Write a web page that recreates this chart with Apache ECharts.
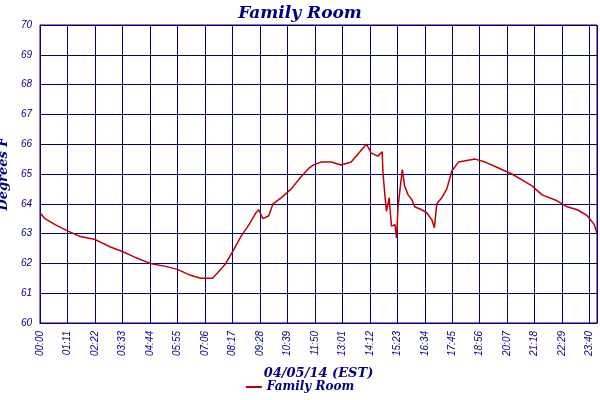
<!DOCTYPE html>
<html><head><meta charset="utf-8">
<script src="https://cdn.jsdelivr.net/npm/echarts@6/dist/echarts.min.js"></script>
<style>html,body{margin:0;background:#fff}#c{width:600px;height:400px}</style></head>
<body><div id="c"></div>
<script>
const minutes = [0,13,39,70,104,143,182,213,246,285,324,355,389,415,446,467,480,498,519,540,558,565,576,591,602,623,649,674,695,706,726,752,778,804,843,856,873,884,886,891,895,902,908,917,921,925,932,936,942,951,960,968,986,999,1012,1019,1025,1038,1051,1064,1081,1124,1150,1176,1193,1219,1245,1271,1297,1336,1362,1388,1414,1432,1439];
const temps = [63.7,63.5,63.3,63.1,62.9,62.8,62.55,62.4,62.2,62.0,61.9,61.8,61.6,61.5,61.5,61.8,62.0,62.4,62.9,63.3,63.7,63.8,63.5,63.6,64.0,64.2,64.5,64.9,65.2,65.3,65.4,65.4,65.3,65.4,66.0,65.7,65.6,65.75,65.05,64.3,63.75,64.2,63.25,63.3,62.85,63.9,64.7,65.15,64.6,64.3,64.15,63.9,63.8,63.7,63.47,63.2,64.0,64.2,64.5,65.1,65.4,65.5,65.4,65.25,65.15,65.0,64.8,64.6,64.3,64.1,63.9,63.8,63.6,63.3,63.0];
const seriesName = 'Family Room';
const xTitle = '04/05/14 (EST)';
const yTitle = 'Degrees F';
const data = minutes.map((m,i)=>[m,temps[i]]);
const navy = '#000080';
const fmt = m => String(Math.floor(m/60)).padStart(2,'0')+':'+String(m%60).padStart(2,'0');
const ch = echarts.init(document.getElementById('c'));
ch.setOption({
  animation:false,
  title:{text:'Family Room',left:'center',top:0,textStyle:{color:navy,fontSize:17,fontStyle:'italic',fontWeight:'bold',fontFamily:'DejaVu Serif'}},
  legend:{bottom:2,left:'center',itemWidth:16,itemHeight:2,icon:'rect',textStyle:{color:navy,fontStyle:'italic',fontWeight:'bold',fontSize:12,fontFamily:'DejaVu Serif'},data:[seriesName]},
  grid:{left:40,right:3,top:25,bottom:77,containLabel:false,outerBoundsMode:'none',show:true,borderColor:navy,borderWidth:1},
  xAxis:{type:'value',min:0,max:1439,interval:71,name:xTitle,nameLocation:'middle',nameGap:44,
    nameTextStyle:{color:navy,fontStyle:'italic',fontWeight:'bold',fontSize:13,fontFamily:'DejaVu Serif'},
    axisLine:{lineStyle:{color:navy}},axisTick:{show:false},
    splitLine:{lineStyle:{color:navy,width:1}},
    axisLabel:{rotate:90,color:navy,fontSize:10,fontStyle:'italic',showMaxLabel:false,formatter:v=>fmt(v)}},
  yAxis:{type:'value',min:60,max:70,interval:1,name:yTitle,nameLocation:'middle',nameGap:26,
    nameTextStyle:{color:navy,fontStyle:'italic',fontWeight:'bold',fontSize:13,fontFamily:'DejaVu Serif'},
    axisLine:{lineStyle:{color:navy}},axisTick:{show:false},
    splitLine:{lineStyle:{color:navy,width:1}},
    axisLabel:{color:navy,fontSize:10,fontStyle:'italic'}},
  series:[{name:seriesName,type:'line',data:data,symbol:'none',lineStyle:{color:'#c00000',width:1.5},itemStyle:{color:'#c00000'}}]
});
</script></body></html>
